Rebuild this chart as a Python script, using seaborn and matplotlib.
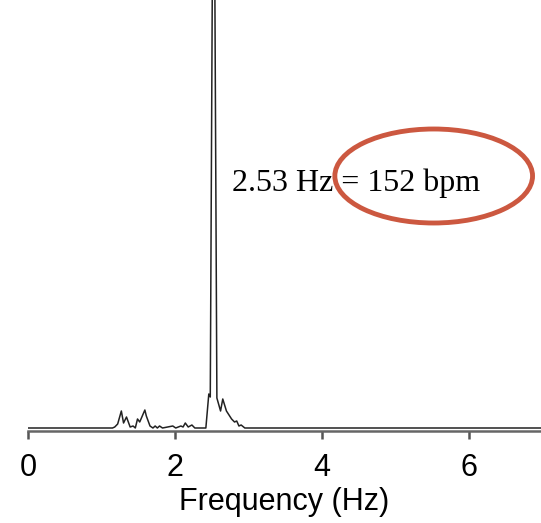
import numpy as np
import pandas as pd
import matplotlib
matplotlib.use("Agg")
import matplotlib.pyplot as plt
from matplotlib.patches import Ellipse
import seaborn as sns

# spectrum (power in arbitrary units, peak is clipped)
freq = [0.0, 1.15, 1.18, 1.22, 1.27, 1.30, 1.34, 1.39, 1.43, 1.46, 1.49, 1.52,
        1.59, 1.61, 1.66, 1.70, 1.73, 1.76, 1.79, 1.83, 1.97, 2.01, 2.08, 2.11,
        2.14, 2.18, 2.23, 2.27, 2.42, 2.46, 2.48, 2.525, 2.57, 2.62, 2.65, 2.70,
        2.77, 2.81, 2.84, 2.87, 2.90, 2.95, 7.0]
power = [0, 0, 1, 4, 17, 5, 11, 1, 2, 0, 9, 6,
         18, 12, 2, 0, 2, 0, 2, 0, 2, 0, 2, 1,
         5, 1, 3, 0, 0, 34, 31, 700, 30, 17, 29, 17,
         9, 6, 7, 2, 3, 0, 0]
xticks = [0, 2, 4, 6]
peak_label = "2.53 Hz = 152 bpm"

df = pd.DataFrame({"freq": freq, "power": power})

sns.set_style("ticks")
plt.rcParams["font.family"] = ["Liberation Sans", "DejaVu Sans"]

fig = plt.figure(figsize=(5.41, 5.23), dpi=100)
ax = fig.add_axes([28 / 541, 92 / 523, 1 - 28 / 541, 1 - 92 / 523])

sns.lineplot(data=df, x="freq", y="power", ax=ax, color="#222222", lw=1.1)

ax.set_xlim(0, 6.98)
ax.set_ylim(-3, 428)
ax.set_xticks(xticks)
ax.set_xticklabels([str(t) for t in xticks])
ax.set_yticks([])
ax.set_ylabel("")
ax.set_xlabel("Frequency (Hz)", fontsize=22, labelpad=3, color="black")
ax.tick_params(axis="x", labelsize=22, length=6, width=1.8, color="#555555",
               pad=10, labelcolor="black")
sns.despine(ax=ax, left=True, right=True, top=True)
ax.spines["bottom"].set_color("#666666")
ax.spines["bottom"].set_linewidth(1.8)

ax.text(2.77, 237, peak_label, fontsize=23, family=["Liberation Serif", "DejaVu Serif"],
        ha="left", va="baseline", color="black")
ax.add_patch(Ellipse((5.52, 252), 2.69, 94, fill=False, edgecolor="#CC5840", lw=3.5))

fig.savefig("out.png", dpi=100)
